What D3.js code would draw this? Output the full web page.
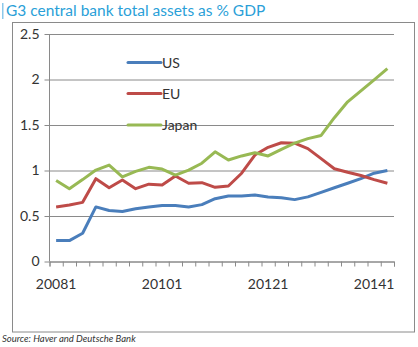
<!DOCTYPE html>
<html>
<head>
<meta charset="utf-8">
<script src="https://cdn.jsdelivr.net/npm/d3@7"></script>
<style>
  body { margin: 0; background: #fff; }
  text { font-family: Lato, "Open Sans", sans-serif; }
</style>
</head>
<body>
<div id="chart"></div>
<script>
// quarters 2008Q1 .. 2014Q2, labelled like "20081"
var quarters = ['20081','20082','20083','20084','20091','20092','20093','20094',
                '20101','20102','20103','20104','20111','20112','20113','20114',
                '20121','20122','20123','20124','20131','20132','20133','20134',
                '20141','20142'];
var shownLabels = ['20081','20101','20121','20141'];
var yTicks = [0, 0.5, 1, 1.5, 2, 2.5];

var us    = [0.23,0.23,0.31,0.60,0.56,0.55,0.58,0.60,0.615,0.615,0.60,0.625,0.69,
             0.72,0.72,0.73,0.71,0.70,0.68,0.71,0.76,0.81,0.86,0.91,0.97,1.00];
var eu    = [0.60,0.62,0.65,0.91,0.81,0.895,0.80,0.85,0.84,0.94,0.86,0.866,0.815,
             0.83,0.97,1.17,1.255,1.305,1.30,1.24,1.13,1.02,0.98,0.945,0.90,0.86];
var japan = [0.89,0.80,0.90,1.005,1.06,0.93,0.99,1.035,1.016,0.95,1.005,1.08,1.205,
             1.115,1.16,1.195,1.16,1.233,1.30,1.35,1.385,1.58,1.755,1.875,1.995,2.12];

var seriesNames  = ['US', 'EU', 'Japan'];
var seriesColors = ['#4a7ebb', '#be4b48', '#98b954'];
var seriesData   = [us, eu, japan];

var w = 418, h = 347;
var svg = d3.select('#chart').append('svg')
    .attr('width', w)
    .attr('height', h);

// title + little blue bar
svg.append('rect')
    .attr('x', 2).attr('y', 3)
    .attr('width', 1.5).attr('height', 16)
    .attr('fill', '#8cc8ea');
svg.append('text')
    .attr('x', 6).attr('y', 16)
    .attr('font-size', 15.5)
    .attr('fill', '#2a9fd8')
    .text('G3 central bank total assets as % GDP');

// outer frame
svg.append('rect')
    .attr('x', 12.5).attr('y', 22.5)
    .attr('width', 402).attr('height', 309.5)
    .attr('fill', 'none')
    .attr('stroke', '#8a8a8a');

var plotLeft = 49.5, plotRight = 394, plotTop = 34, plotBottom = 261.5;

var x = d3.scaleBand().domain(quarters).range([plotLeft, plotRight]).padding(0);
var xEdge = d3.scaleLinear().domain([0, quarters.length]).range([plotLeft, plotRight]);
var y = d3.scaleLinear().domain([0, 2.5]).range([plotBottom, plotTop]);

// gridlines + y axis
var yAxis = svg.append('g')
    .attr('transform', 'translate(' + plotLeft + ',0)')
    .call(d3.axisLeft(y).tickValues(yTicks).tickSize(-(plotRight - plotLeft)).tickPadding(10)
      .tickFormat(function(d){ return String(d); }));
yAxis.select('.domain').remove();
yAxis.selectAll('.tick line').attr('stroke', '#8a8a8a').attr('x1', -5);
yAxis.selectAll('.tick text').attr('font-size', 14).attr('fill', '#333').attr('font-family', 'Lato');

svg.append('line')
    .attr('x1', plotLeft).attr('x2', plotLeft)
    .attr('y1', plotTop).attr('y2', plotBottom)
    .attr('stroke', '#8a8a8a');

// x axis: tick marks at category edges, labels centred in categories
var xTickAxis = svg.append('g')
    .attr('transform', 'translate(0,' + plotBottom + ')')
    .call(d3.axisBottom(xEdge).tickValues(d3.range(quarters.length + 1)).tickSize(5).tickFormat(''));
xTickAxis.select('.domain').attr('stroke', '#8a8a8a');
xTickAxis.selectAll('.tick line').attr('stroke', '#8a8a8a');

var xLabelAxis = svg.append('g')
    .attr('transform', 'translate(0,' + plotBottom + ')')
    .call(d3.axisBottom(x).tickValues(shownLabels).tickSize(0).tickPadding(18));
xLabelAxis.select('.domain').remove();
xLabelAxis.selectAll('.tick text').attr('font-size', 14).attr('fill', '#333').attr('font-family', 'Lato');

// series lines
var line = d3.line()
    .x(function(d, i){ return x(quarters[i]) + x.bandwidth() / 2; })
    .y(function(d){ return y(d); });

seriesData.forEach(function(s, k){
  svg.append('path')
      .datum(s)
      .attr('d', line)
      .attr('fill', 'none')
      .attr('stroke', seriesColors[k])
      .attr('stroke-width', 3)
      .attr('stroke-linejoin', 'round');
});

// legend
var legendY = [62.5, 93.5, 125];
seriesNames.forEach(function(name, k){
  svg.append('line')
      .attr('x1', 128).attr('x2', 161)
      .attr('y1', legendY[k]).attr('y2', legendY[k])
      .attr('stroke', seriesColors[k])
      .attr('stroke-width', 3)
      .attr('stroke-linecap', 'round');
  svg.append('text')
      .attr('x', 162).attr('y', legendY[k] + 5)
      .attr('font-size', 14)
      .attr('fill', '#333')
      .text(name);
});

// source
svg.append('text')
    .attr('x', 2).attr('y', 342)
    .attr('font-size', 9.5)
    .attr('font-style', 'italic')
    .attr('fill', '#333')
    .attr('font-family', 'Liberation Sans, Arial, sans-serif')
    .text('Source: Haver and Deutsche Bank');
</script>
</body>
</html>
